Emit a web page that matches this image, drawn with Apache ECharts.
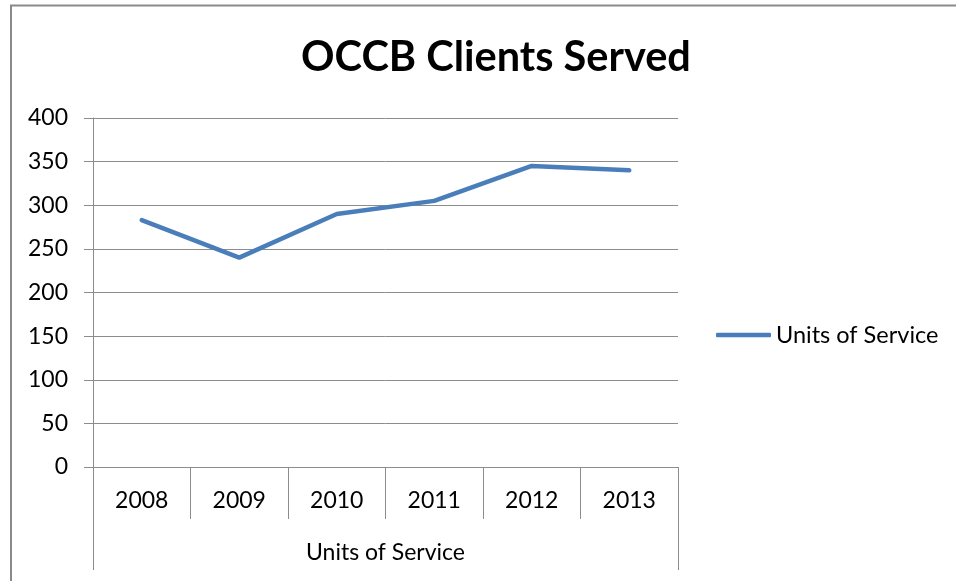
<!DOCTYPE html>
<html>
<head>
<meta charset="utf-8">
<style>
  html, body { margin: 0; padding: 0; background: #ffffff; }
  #chart { width: 956px; height: 581px; }
</style>
<script src="https://cdn.jsdelivr.net/npm/echarts@6/dist/echarts.min.js"></script>
</head>
<body>
<div id="chart"></div>
<script>
// Clients served per year
const years = ['2008', '2009', '2010', '2011', '2012', '2013'];
const unitsOfService = [283, 240, 290, 305, 345, 340];
const groupLabel = ['Units of Service'];
const seriesName = 'Units of Service';
const titleText = 'OCCB Clients Served';
const yMin = 0, yMax = 400, yStep = 50;

const FONT = 'Lato, "Open Sans", "Liberation Sans", sans-serif';
const GRID_GREY = '#8c8c8c';
const LINE_BLUE = '#4a7ebb';

const chart = echarts.init(document.getElementById('chart'), null, { renderer: 'canvas' });

chart.setOption({
  backgroundColor: '#ffffff',
  animation: false,
  title: {
    text: titleText,
    left: 491,
    top: 32,
    textAlign: 'center',
    textStyle: { fontFamily: FONT, fontWeight: 'bold', fontSize: 41.5, color: '#000000' }
  },
  legend: {
    data: [{ name: seriesName, icon: 'roundRect' }],
    left: 716,
    top: 323,
    padding: 0,
    itemWidth: 55,
    itemHeight: 4.5,
    itemStyle: { color: LINE_BLUE, borderWidth: 0 },
    lineStyle: { width: 0 },
    textStyle: { fontFamily: FONT, fontSize: 23.5, color: '#000000' }
  },
  grid: { left: 93, top: 118, width: 585, height: 349, containLabel: false },
  xAxis: [
    {
      type: 'category',
      data: years,
      boundaryGap: true,
      position: 'bottom',
      axisLine: { show: true, lineStyle: { color: GRID_GREY, width: 1 } },
      axisTick: { show: true, interval: 0, length: 52, lineStyle: { color: GRID_GREY, width: 1 } },
      axisLabel: { interval: 0, margin: 22, fontFamily: FONT, fontSize: 23, color: '#000000' }
    },
    {
      type: 'category',
      data: groupLabel,
      boundaryGap: true,
      position: 'bottom',
      axisLine: { show: false },
      axisTick: { show: true, interval: 0, length: 103, lineStyle: { color: GRID_GREY, width: 1 } },
      axisLabel: { interval: 0, margin: 74, fontFamily: FONT, fontSize: 23, color: '#000000' }
    }
  ],
  yAxis: {
    type: 'value',
    min: yMin,
    max: yMax,
    interval: yStep,
    axisLine: { show: true, lineStyle: { color: GRID_GREY, width: 1 } },
    axisTick: { show: true, length: 9, lineStyle: { color: GRID_GREY, width: 1 } },
    axisLabel: { margin: 25, fontFamily: FONT, fontSize: 23, color: '#000000' },
    splitLine: { show: true, lineStyle: { color: GRID_GREY, width: 1 } }
  },
  series: [
    {
      name: seriesName,
      type: 'line',
      xAxisIndex: 0,
      data: unitsOfService,
      symbol: 'none',
      showSymbol: false,
      lineStyle: { color: LINE_BLUE, width: 4.5, cap: 'round', join: 'round' },
      itemStyle: { color: LINE_BLUE }
    }
  ],
  graphic: [
    {
      type: 'polyline',
      shape: { points: [[11, 581], [11, 5.5], [956, 5.5]] },
      style: { stroke: '#8a8a8a', lineWidth: 2, fill: null },
      silent: true
    }
  ]
});
</script>
</body>
</html>
